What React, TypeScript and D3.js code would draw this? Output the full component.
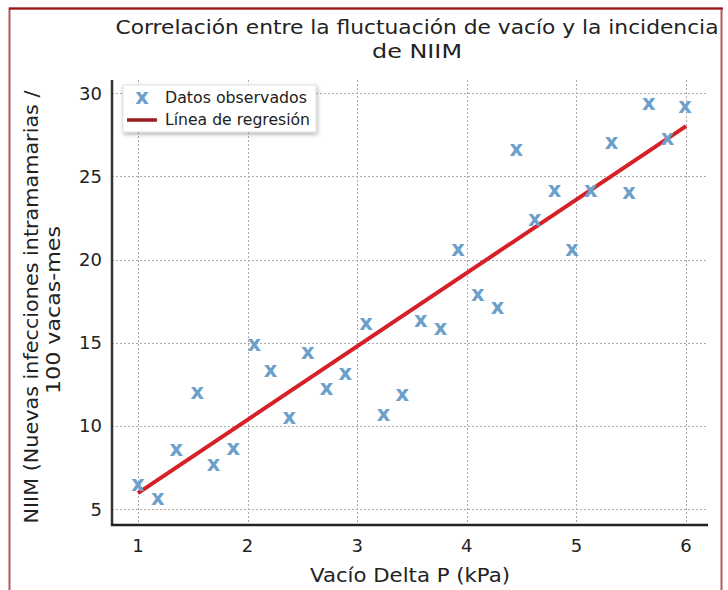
import React, { useEffect, useRef } from "react";
import * as d3 from "d3";

const vacuumDelta = [
  1.0, 1.18, 1.35, 1.54, 1.69, 1.87, 2.06, 2.21, 2.38, 2.55,
  2.72, 2.89, 3.08, 3.24, 3.41, 3.58, 3.76, 3.92, 4.1, 4.28,
  4.45, 4.62, 4.8, 4.96, 5.13, 5.32, 5.48, 5.66, 5.83, 5.99,
];
const niim = [
  6.44, 5.6, 8.55, 12.0, 7.65, 8.6, 14.86, 13.3, 10.5, 14.4,
  12.2, 13.1, 16.1, 10.65, 11.85, 16.3, 15.8, 20.6, 17.9, 17.1,
  26.6, 22.4, 24.1, 20.6, 24.1, 27.0, 24.0, 29.35, 27.25, 29.2,
];
// regression line end points
const regX = [1, 6];
const regY = [5.96, 28.03];

const xTicks = [1, 2, 3, 4, 5, 6];
const yTicks = [5, 10, 15, 20, 25, 30];

const FONT = "'DejaVu Sans', sans-serif";

export default function App() {
  const ref = useRef<SVGSVGElement>(null);

  useEffect(() => {
    const svg = d3.select(ref.current);
    svg.selectAll("*").remove();

    const left = 112, right = 708, top = 80, bottom = 525;

    const x = d3.scaleLinear().domain([0.763, 6.2]).range([left, right]);
    const y = d3.scaleLinear().domain([4.04, 30.8]).range([bottom, top]);

    // frame
    svg.append("rect")
      .attr("x", 9.5).attr("y", 8.5)
      .attr("width", 712).attr("height", 600)
      .attr("fill", "white")
      .attr("stroke", "#b35a5a").attr("stroke-width", 2);
    svg.append("line")
      .attr("x1", 9).attr("x2", 723).attr("y1", 8.5).attr("y2", 8.5)
      .attr("stroke", "#9e1414").attr("stroke-width", 2);

    // title
    const title = svg.append("text")
      .attr("text-anchor", "middle")
      .attr("font-family", FONT)
      .attr("font-size", 19)
      .attr("fill", "#222");
    title.append("tspan").attr("x", 417).attr("y", 34)
      .attr("textLength", 603).attr("lengthAdjust", "spacingAndGlyphs")
      .text("Correlación entre la fluctuación de vacío y la incidencia");
    const t2 = svg.append("text")
      .attr("x", 417).attr("y", 58)
      .attr("text-anchor", "middle")
      .attr("font-family", FONT).attr("font-size", 19).attr("fill", "#222")
      .attr("textLength", 90).attr("lengthAdjust", "spacingAndGlyphs")
      .text("de NIIM");

    // grid
    const grid = svg.append("g")
      .attr("stroke", "#aaa").attr("stroke-width", 1)
      .attr("stroke-dasharray", "2,2");
    grid.selectAll("line.v").data(xTicks).join("line")
      .attr("x1", (d) => Math.round(x(d)) + 0.5).attr("x2", (d) => Math.round(x(d)) + 0.5)
      .attr("y1", top).attr("y2", bottom);
    grid.selectAll("line.h").data(yTicks).join("line")
      .attr("x1", left).attr("x2", right)
      .attr("y1", (d) => Math.round(y(d)) + 0.5).attr("y2", (d) => Math.round(y(d)) + 0.5);

    // axes
    svg.append("line")
      .attr("x1", left).attr("x2", left).attr("y1", top).attr("y2", bottom + 1)
      .attr("stroke", "#333").attr("stroke-width", 2.5);
    svg.append("line")
      .attr("x1", left - 1).attr("x2", right).attr("y1", bottom).attr("y2", bottom)
      .attr("stroke", "#222").attr("stroke-width", 2.5);

    svg.append("g").selectAll("text").data(xTicks).join("text")
      .attr("x", (d) => x(d)).attr("y", 552)
      .attr("text-anchor", "middle")
      .attr("font-family", FONT).attr("font-size", 18).attr("fill", "#222")
      .text((d) => d);
    svg.append("g").selectAll("text").data(yTicks).join("text")
      .attr("x", 102).attr("y", (d) => y(d) + 6.5)
      .attr("text-anchor", "end")
      .attr("font-family", FONT).attr("font-size", 18).attr("fill", "#222")
      .text((d) => d);

    // axis titles
    svg.append("text")
      .attr("x", 410).attr("y", 582)
      .attr("text-anchor", "middle")
      .attr("font-family", FONT).attr("font-size", 19).attr("fill", "#222")
      .attr("textLength", 200).attr("lengthAdjust", "spacingAndGlyphs")
      .text("Vacío Delta P (kPa)");
    const yl1 = svg.append("text")
      .attr("transform", "rotate(-90)")
      .attr("x", -307).attr("y", 38)
      .attr("text-anchor", "middle")
      .attr("font-family", FONT).attr("font-size", 19).attr("fill", "#222")
      .attr("textLength", 433).attr("lengthAdjust", "spacingAndGlyphs")
      .text("NIIM (Nuevas infecciones intramamarias /");
    const yl2 = svg.append("text")
      .attr("transform", "rotate(-90)")
      .attr("x", -310).attr("y", 60)
      .attr("text-anchor", "middle")
      .attr("font-family", FONT).attr("font-size", 19).attr("fill", "#222")
      .attr("textLength", 168).attr("lengthAdjust", "spacingAndGlyphs")
      .text("100 vacas-mes");

    // regression line
    const line = d3.line<number>()
      .x((d) => x(d))
      .y((_, i) => y(regY[i]));
    svg.append("path")
      .attr("d", line(regX))
      .attr("fill", "none")
      .attr("stroke", "#d61f26").attr("stroke-width", 4);

    // observed points as "x" markers
    svg.append("g").selectAll("text").data(vacuumDelta).join("text")
      .attr("x", (d) => x(d)).attr("y", (_, i) => y(niim[i]) + 6)
      .attr("text-anchor", "middle")
      .attr("font-family", FONT).attr("font-weight", "bold")
      .attr("font-size", 21).attr("fill", "#6ba0cb")
      .text("x");

    // legend
    const defs = svg.append("defs");
    const f = defs.append("filter").attr("id", "shadow")
      .attr("x", "-10%").attr("y", "-10%").attr("width", "130%").attr("height", "140%");
    f.append("feDropShadow").attr("dx", 1).attr("dy", 2)
      .attr("stdDeviation", 2).attr("flood-color", "#000").attr("flood-opacity", 0.3);
    const lg = svg.append("g");
    lg.append("rect")
      .attr("x", 123).attr("y", 85).attr("width", 193).attr("height", 47)
      .attr("fill", "white").attr("stroke", "#ddd")
      .attr("filter", "url(#shadow)");
    lg.append("text")
      .attr("x", 142).attr("y", 104)
      .attr("text-anchor", "middle")
      .attr("font-family", FONT).attr("font-weight", "bold")
      .attr("font-size", 21).attr("fill", "#6ba0cb").text("x");
    lg.append("line")
      .attr("x1", 127).attr("x2", 157).attr("y1", 120).attr("y2", 120)
      .attr("stroke", "#9b1c1c").attr("stroke-width", 3.5);
    lg.append("text")
      .attr("x", 165).attr("y", 103)
      .attr("font-family", FONT).attr("font-size", 15).attr("fill", "#222")
      .attr("textLength", 142).attr("lengthAdjust", "spacingAndGlyphs")
      .text("Datos observados");
    lg.append("text")
      .attr("x", 165).attr("y", 125)
      .attr("font-family", FONT).attr("font-size", 15).attr("fill", "#222")
      .attr("textLength", 145).attr("lengthAdjust", "spacingAndGlyphs")
      .text("Línea de regresión");
  }, []);

  return (
    <svg
      ref={ref}
      width={728}
      height={590}
      style={{ position: "absolute", left: 0, top: 0, display: "block" }}
    />
  );
}
